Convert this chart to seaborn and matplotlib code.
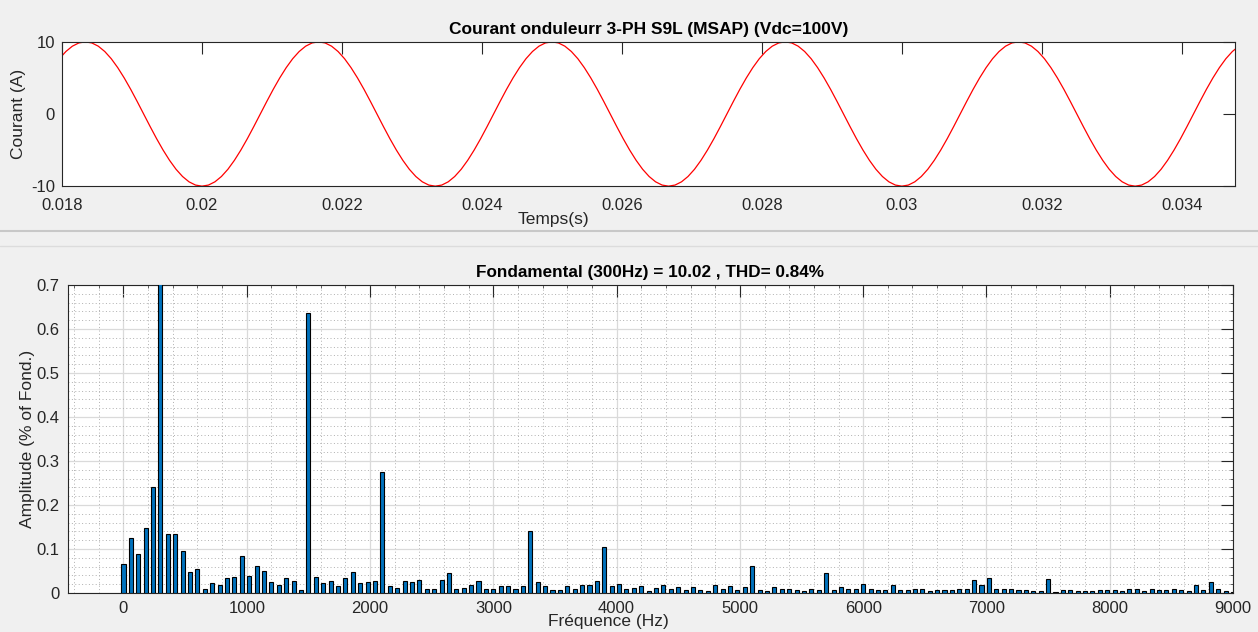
import numpy as np
import matplotlib
matplotlib.use("Agg")
import matplotlib.pyplot as plt
from matplotlib.lines import Line2D
from matplotlib.ticker import MultipleLocator, FixedLocator
import seaborn as sns

# ---------------- data ----------------
# One period of the phase current (A), sampled every 10 degrees from the positive peak
CURRENT_CYCLE = [10.02, 9.87, 9.42, 8.68, 7.68, 6.44, 5.01, 3.43, 1.74, 0.00,
                 -1.74, -3.43, -5.01, -6.44, -7.68, -8.68, -9.42, -9.87, -10.02,
                 -9.87, -9.42, -8.68, -7.68, -6.44, -5.01, -3.43, -1.74, 0.00,
                 1.74, 3.43, 5.01, 6.44, 7.68, 8.68, 9.42, 9.87]
FUND_FREQ = 300.0           # Hz
FIRST_PEAK_TIME = 0.0183333  # s
TIME_START, TIME_END = 0.018, 0.03476
TIME_TICKS = [0.018, 0.020, 0.022, 0.024, 0.026, 0.028, 0.030, 0.032, 0.034]
CURRENT_TICKS = [-10, 0, 10]

# Harmonic spectrum, amplitude in % of fundamental, bins every 60 Hz from 0 to 9000 Hz
BIN_STEP = 60.0
SPECTRUM = [
    0.066, 0.124, 0.089, 0.148, 0.241, 100.0, 0.135, 0.135, 0.095, 0.048,   # 0-540
    0.054, 0.010, 0.022, 0.019, 0.033, 0.036, 0.083, 0.039, 0.061, 0.051,   # 600-1140
    0.025, 0.019, 0.033, 0.028, 0.006, 0.637, 0.036, 0.022, 0.028, 0.016,   # 1200-1740
    0.033, 0.048, 0.022, 0.025, 0.028, 0.276, 0.016, 0.012, 0.028, 0.025,   # 1800-2340
    0.030, 0.008, 0.008, 0.030, 0.045, 0.009, 0.012, 0.019, 0.028, 0.010,   # 2400-2940
    0.008, 0.015, 0.015, 0.010, 0.015, 0.142, 0.024, 0.015, 0.007, 0.007,   # 3000-3540
    0.015, 0.010, 0.018, 0.018, 0.027, 0.104, 0.015, 0.020, 0.010, 0.012,   # 3600-4140
    0.015, 0.004, 0.012, 0.018, 0.010, 0.013, 0.007, 0.014, 0.007, 0.004,   # 4200-4740
    0.019, 0.010, 0.016, 0.007, 0.013, 0.061, 0.007, 0.004, 0.013, 0.010,   # 4800-5340
    0.010, 0.007, 0.004, 0.010, 0.007, 0.045, 0.007, 0.013, 0.010, 0.010,   # 5400-5940
    0.020, 0.010, 0.007, 0.007, 0.018, 0.007, 0.007, 0.010, 0.010, 0.004,   # 6000-6540
    0.007, 0.007, 0.007, 0.010, 0.010, 0.030, 0.018, 0.033, 0.010, 0.010,   # 6600-7140
    0.010, 0.007, 0.007, 0.004, 0.004, 0.031, 0.002, 0.007, 0.007, 0.004,   # 7200-7740
    0.004, 0.004, 0.007, 0.007, 0.007, 0.004, 0.010, 0.010, 0.004, 0.010,   # 7800-8340
    0.007, 0.007, 0.010, 0.007, 0.004, 0.019, 0.007, 0.024, 0.010, 0.004,   # 8400-8940
    0.002,                                                                  # 9000
]
FREQ_TICKS = [0, 1000, 2000, 3000, 4000, 5000, 6000, 7000, 8000, 9000]
AMP_TICKS = [0, 0.1, 0.2, 0.3, 0.4, 0.5, 0.6, 0.7]

TITLE_TOP = "Courant onduleurr 3-PH S9L (MSAP) (Vdc=100V)"
TITLE_BOTTOM = "Fondamental (300Hz) = 10.02 , THD= 0.84%"

# ---------------- sampled waveform ----------------
n_per = len(CURRENT_CYCLE)
dt = 1.0 / FUND_FREQ / n_per
k = np.arange(int(np.floor((TIME_START - FIRST_PEAK_TIME) / dt)) - 1,
              int(np.ceil((TIME_END - FIRST_PEAK_TIME) / dt)) + 2)
t = FIRST_PEAK_TIME + k * dt
cycle = np.array(CURRENT_CYCLE)
current = cycle[np.mod(k, n_per)]

freqs = np.arange(len(SPECTRUM)) * BIN_STEP
spectrum = np.array(SPECTRUM)

# ---------------- style ----------------
sns.set_style("white")
plt.rcParams["font.family"] = ["Liberation Sans", "DejaVu Sans"]
plt.rcParams["axes.edgecolor"] = "#262626"
plt.rcParams["xtick.color"] = "#262626"
plt.rcParams["ytick.color"] = "#262626"

BG = "#f0f0f0"
TEXT = "#262626"

W, H = 1258, 632
fig = plt.figure(figsize=(W / 100, H / 100), dpi=100, facecolor=BG)


def px_axes(left, top, right, bottom):
    return fig.add_axes([left / W, 1 - bottom / H, (right - left) / W, (bottom - top) / H])


# separator between the two panels
fig.add_artist(Line2D([0, 1], [1 - 231 / H, 1 - 231 / H], transform=fig.transFigure,
                      color="#c8c8c8", lw=1.5))
fig.add_artist(Line2D([0, 1], [1 - 246 / H, 1 - 246 / H], transform=fig.transFigure,
                      color="#dcdcdc", lw=1.0))

# ---------------- top: current waveform ----------------
ax1 = px_axes(62, 42, 1235, 186)
ax1.set_facecolor("white")
sns.lineplot(x=t, y=current, color="red", lw=0.9, ax=ax1, sort=False)
ax1.set_xlim(TIME_START, TIME_END)
ax1.set_ylim(-10, 10)
ax1.set_xticks(TIME_TICKS)
ax1.set_xticklabels(["%g" % v for v in TIME_TICKS])
ax1.set_yticks(CURRENT_TICKS)
ax1.set_yticklabels(["%g" % v for v in CURRENT_TICKS])
ax1.tick_params(direction="in", top=True, right=True, length=8.5, width=0.8,
                labelsize=12, colors=TEXT)
ax1.tick_params(axis="x", pad=9)
ax1.tick_params(axis="y", pad=5)
for s in ax1.spines.values():
    s.set_linewidth(0.8)
ax1.set_title(TITLE_TOP, fontsize=12.5, fontweight="bold", pad=6, color="black")
ax1.set_xlabel("Temps(s)", fontsize=12.5, color=TEXT)
ax1.xaxis.set_label_coords(0.4186, -0.23)
ax1.xaxis.label.set_va("center")
ax1.set_ylabel("Courant (A)", fontsize=12.5, color=TEXT)
ax1.yaxis.set_label_coords(-0.031, 0.5)

# ---------------- bottom: harmonic spectrum ----------------
ax2 = px_axes(68, 285, 1233, 593)
ax2.set_facecolor("white")
sns.barplot(x=freqs, y=spectrum, native_scale=True, width=0.55, color="#0072BD",
            saturation=1, edgecolor="black", linewidth=0.8, ax=ax2, zorder=3)
ax2.set_xlim(-450, 9000)
ax2.set_ylim(0, 0.7)
ax2.xaxis.set_major_locator(FixedLocator(FREQ_TICKS))
ax2.set_xticklabels(["%g" % v for v in FREQ_TICKS])
ax2.yaxis.set_major_locator(FixedLocator(AMP_TICKS))
ax2.set_yticklabels(["%g" % v for v in AMP_TICKS])
ax2.xaxis.set_minor_locator(MultipleLocator(200))
ax2.yaxis.set_minor_locator(MultipleLocator(0.02))
ax2.grid(True, which="major", color="#dadada", lw=0.9, zorder=0)
ax2.grid(True, which="minor", color="#b0b0b0", lw=0.7, ls=(0, (1, 2.5)), zorder=0)
ax2.set_axisbelow(True)
ax2.tick_params(which="major", direction="in", top=True, right=True, length=8.5, width=0.8,
                labelsize=12, pad=6, colors=TEXT)
ax2.tick_params(which="minor", direction="in", top=True, right=True, length=2.5, width=0.5)
for s in ax2.spines.values():
    s.set_linewidth(0.8)
ax2.set_title(TITLE_BOTTOM, fontsize=12.3, fontweight="bold", pad=6, color="black")
ax2.set_xlabel("Fréquence (Hz)", fontsize=12.5, color=TEXT)
ax2.xaxis.set_label_coords(0.4635, -0.094)
ax2.xaxis.label.set_va("center")
ax2.set_ylabel("Amplitude (% of Fond.)", fontsize=12.5, color=TEXT)
ax2.yaxis.set_label_coords(-0.028, 0.5)

fig.savefig("out.png", dpi=100, facecolor=BG)
